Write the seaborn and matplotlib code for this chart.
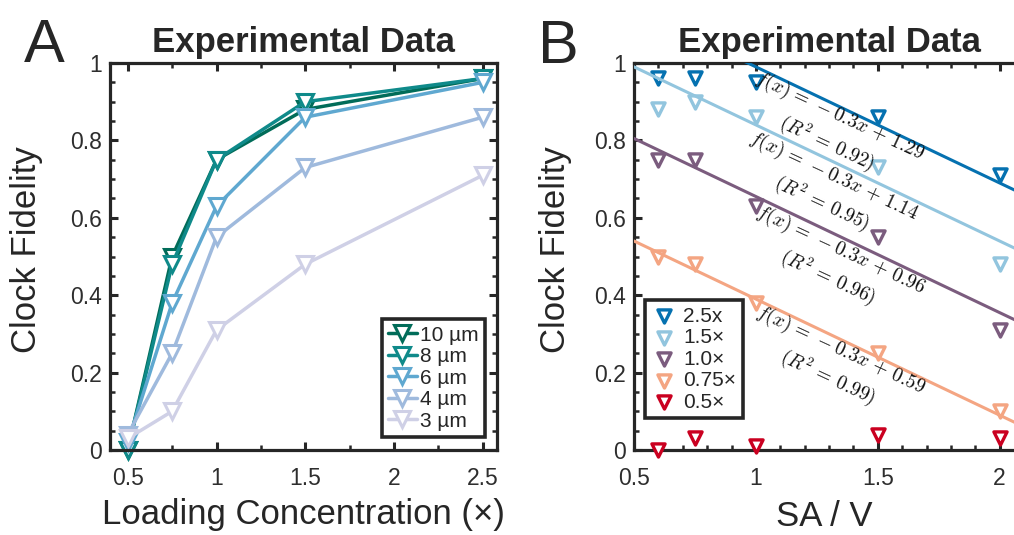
import numpy as np
import pandas as pd
import matplotlib
matplotlib.use("Agg")
import matplotlib.pyplot as plt
from matplotlib.ticker import MultipleLocator, FuncFormatter
import seaborn as sns

sns.set_theme(style="white")
plt.rcParams['font.family'] = ['Liberation Sans', 'DejaVu Sans']
plt.rcParams['mathtext.fontset'] = 'cm'

# panel A: fidelity vs loading concentration, one series per size
conc = [0.5, 0.75, 1.0, 1.5, 2.5]
size_labels = ['10 µm', '8 µm', '6 µm', '4 µm', '3 µm']
fid_10 = [0.00, 0.50, 0.75, 0.88, 0.96]
fid_8 = [0.00, 0.48, 0.75, 0.90, 0.96]
fid_6 = [0.02, 0.38, 0.63, 0.86, 0.95]
fid_4 = [0.04, 0.25, 0.55, 0.73, 0.86]
fid_3 = [0.03, 0.10, 0.31, 0.48, 0.71]
size_colors = ['#016c59', '#0f8a8a', '#5fa8d0', '#9fbadd', '#cfd0e6']

# panel B: fidelity vs SA/V, one series per loading concentration
sav = [0.6, 0.75, 1.0, 1.5, 2.0]
load_labels = ['2.5x', '1.5×', '1.0×', '0.75×', '0.5×']
fid_25x = [0.96, 0.96, 0.95, 0.86, 0.71]
fid_15x = [0.88, 0.90, 0.86, 0.73, 0.48]
fid_10x = [0.75, 0.75, 0.63, 0.55, 0.31]
fid_075x = [0.50, 0.48, 0.38, 0.25, 0.10]
fid_05x = [0.00, 0.03, 0.01, 0.04, 0.03]
load_colors = ['#0571b0', '#92c5de', '#7b5c7e', '#f4a582', '#ca0020']

# linear fits drawn in panel B (first four series)
fit_slope = [-0.3, -0.3, -0.3, -0.3]
fit_icpt = [1.29, 1.14, 0.955, 0.69]
fit_text = ['1.29', '1.14', '0.96', '0.59']
fit_r2 = ['0.92', '0.95', '0.96', '0.99']
text_pos = [(1.316, 0.827), (1.295, 0.672), (1.32, 0.48), (1.32, 0.222)]

edge = '#262626'

fig = plt.figure(figsize=(10.14, 5.35), dpi=100)
W, H = 1014, 535
axA = fig.add_axes([110 / W, (H - 450) / H, 387 / W, 387 / H])
axB = fig.add_axes([634 / W, (H - 450) / H, 390 / W, 387 / H])


def style_axes(ax, xminor):
    for s in ax.spines.values():
        s.set_linewidth(2.3)
        s.set_color(edge)
    ax.set_ylim(0, 1)
    ax.yaxis.set_major_locator(MultipleLocator(0.2))
    ax.yaxis.set_minor_locator(MultipleLocator(0.05))
    ax.xaxis.set_major_locator(MultipleLocator(0.5))
    ax.xaxis.set_minor_locator(MultipleLocator(xminor))
    fmt = FuncFormatter(lambda v, p: f'{v:g}')
    ax.xaxis.set_major_formatter(fmt)
    ax.yaxis.set_major_formatter(fmt)
    ax.tick_params(which='both', direction='in', top=True, right=True,
                   bottom=True, left=True, color=edge, labelcolor='#2e2e2e')
    ax.tick_params(which='major', length=6, width=2.2, labelsize=16.5)
    ax.tick_params(which='minor', length=3.5, width=1.8)
    ax.tick_params(axis='x', which='major', pad=12)
    ax.tick_params(axis='y', which='major', pad=6)
    ax.set_title('Experimental Data', fontsize=25, fontweight='bold', pad=8)
    ax.set_ylabel('Clock Fidelity', fontsize=25)


# ---- panel A
seriesA = [fid_10, fid_8, fid_6, fid_4, fid_3]
for vals, lab, col in zip(seriesA, size_labels, size_colors):
    sns.lineplot(x=conc, y=vals, color=col, linewidth=2.5, marker='v',
                 markersize=11, markerfacecolor='white', markeredgecolor=col,
                 markeredgewidth=2.2, label=lab, ax=axA, clip_on=False)
axA.set_xlim(0.4, 2.58)
style_axes(axA, 0.25)
axA.set_xlabel('Loading Concentration (×)', fontsize=25)
axA.xaxis.set_label_coords(0.5, -0.125)
axA.yaxis.set_label_coords(-0.173, 0.517)
legA = axA.legend(loc='lower right', bbox_to_anchor=(0.969, 0.034),
                  borderaxespad=0, fontsize=15, fancybox=False, framealpha=1,
                  edgecolor=edge, labelspacing=0.12, handlelength=1.4,
                  handletextpad=0.15, borderpad=0.3)
legA.get_frame().set_linewidth(2.6)

# ---- panel B
seriesB = [fid_25x, fid_15x, fid_10x, fid_075x, fid_05x]
for vals, lab, col in zip(seriesB, load_labels, load_colors):
    sns.scatterplot(x=sav, y=vals, marker='v', s=90, facecolor='white',
                    edgecolor=col, linewidth=2.4, label=lab, ax=axB,
                    clip_on=False, zorder=3)

xfit = np.array([0.5, 2.1])
for m, b, col, t, r2, (tx, ty) in zip(fit_slope, fit_icpt, load_colors,
                                      fit_text, fit_r2, text_pos):
    axB.plot(xfit, m * xfit + b, color=col, linewidth=2.2, zorder=4)
    axB.text(tx, ty,
             rf'$f(x)\,=\,-0.3x\,+\,{t}$' + '\n' + rf'$(R^2\,=\,{r2})$',
             fontsize=14, rotation=-25, rotation_mode='anchor',
             ha='center', va='center', multialignment='center',
             linespacing=1.3, color='#111111', zorder=5)

axB.set_xlim(0.5, 2.1)
style_axes(axB, 0.1)
axB.set_xlabel('SA / V', fontsize=25)
axB.xaxis.set_label_coords(0.487, -0.13)
axB.yaxis.set_label_coords(-0.159, 0.517)
legB = axB.legend(loc='lower left', bbox_to_anchor=(0.028, 0.083),
                  borderaxespad=0, fontsize=15, fancybox=False, framealpha=1,
                  edgecolor=edge, labelspacing=0.12, handlelength=1.2,
                  handletextpad=0.35, borderpad=0.3)
legB.get_frame().set_linewidth(2.6)

# panel letters
fig.text(24 / W, (H - 62) / H, 'A', fontsize=44, va='baseline', ha='left')
fig.text(538 / W, (H - 63) / H, 'B', fontsize=44, va='baseline', ha='left')

fig.savefig('out.png', dpi=100)
